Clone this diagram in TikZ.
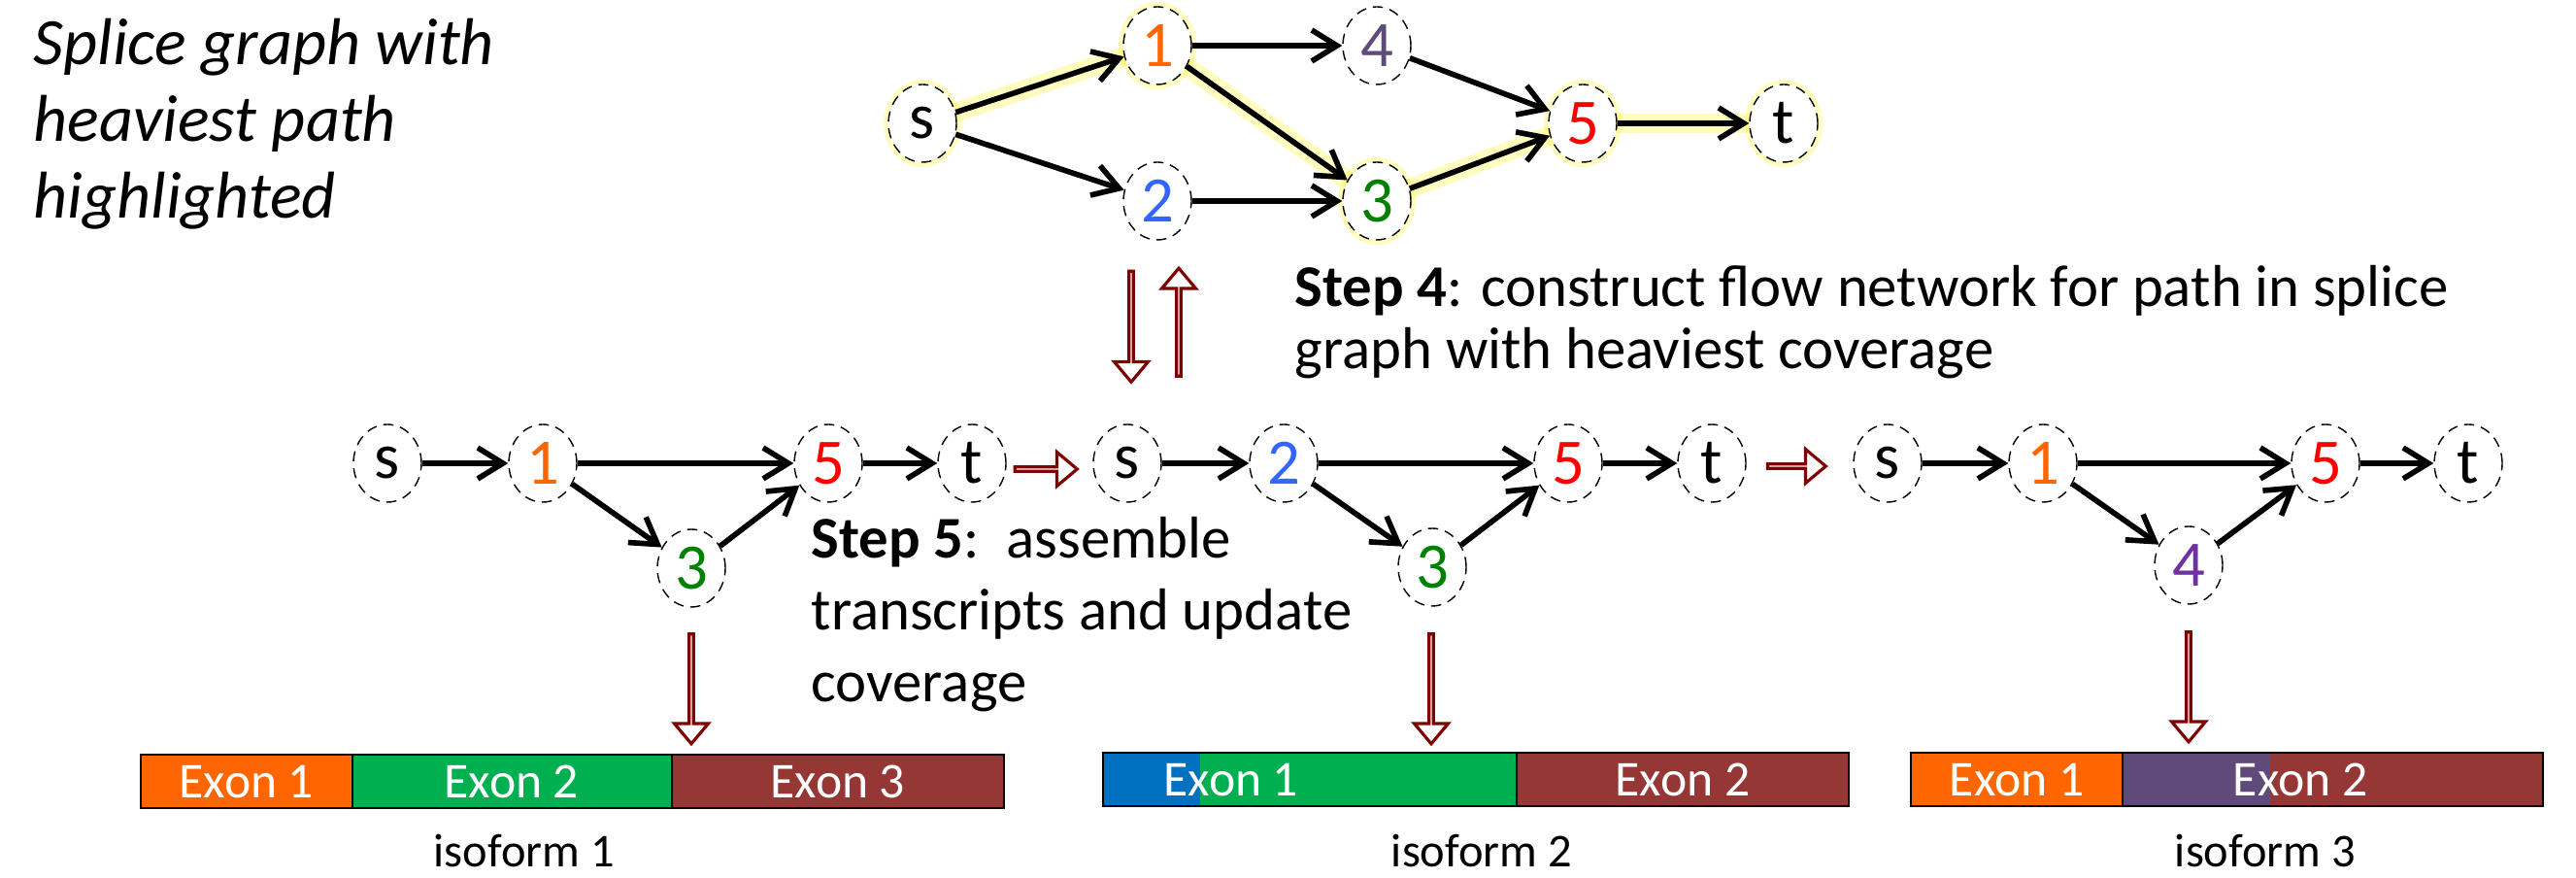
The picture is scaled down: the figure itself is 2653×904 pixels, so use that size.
\documentclass[tikz,border=0pt]{standalone}
\usepackage{fontspec}
\setmainfont{Carlito}
\usetikzlibrary{shapes.geometric,shapes.arrows,arrows.meta,backgrounds}

\definecolor{exorange}{HTML}{FF6600}
\definecolor{exgreen}{HTML}{00B050}
\definecolor{exbrown}{HTML}{953735}
\definecolor{exblue}{HTML}{0070C0}
\definecolor{expurple}{HTML}{604A7B}
\definecolor{arrowred}{HTML}{7F0000}
\definecolor{numorange}{HTML}{FF6600}
\definecolor{numblue}{HTML}{3366FF}
\definecolor{numgreen}{HTML}{008000}
\definecolor{numgrey}{HTML}{604A7B}
\definecolor{numpurple}{HTML}{7030A0}
\definecolor{numred}{HTML}{FF0000}

\begin{document}
\begin{tikzpicture}[x=0.1mm, y=-0.1mm,
  vert/.style={ellipse, draw, densely dashed, line width=0.4pt, fill=white, minimum width=7mm, minimum height=8mm, inner sep=0pt, font=\fontsize{19}{19}\selectfont},
  hot/.style={vert, preaction={draw=yellow, solid, line width=1mm, opacity=0.25}},
  link/.style={-{Straight Barb[length=2.6mm, width=3.2mm]}, line width=1.6pt},
  glowline/.style={draw=yellow, line width=2mm, opacity=0.25, line cap=round},
  bigarrow/.style={single arrow, draw=arrowred, line width=0.9pt, fill=white, minimum width=3.5mm, single arrow head extend=1.1mm, single arrow tip angle=80, inner sep=0pt},
  exon/.style={draw=black, line width=0.6pt},
  exlabel/.style={text=white, font=\fontsize{14.7}{15}\selectfont, anchor=base},
  isolabel/.style={font=\fontsize{13.8}{15}\selectfont, anchor=base}
]
\useasboundingbox (0,0) rectangle (2653,904);

% Title
\node[anchor=north west, align=left, inner sep=0pt, font=\fontsize{19.4}{22.5}\selectfont\itshape] (title) at (34,18) {Splice graph with\\heaviest path\\highlighted};

% Splice graph
\node[hot] (s0) at (950,127) {s};
\node[hot, text=numorange] (a1) at (1192,47) {1};
\node[vert, text=numblue] (a2) at (1192,207) {2};
\node[hot, text=numgreen] (a3) at (1418,207) {3};
\node[vert, text=numgrey] (a4) at (1418,47) {4};
\node[hot, text=numred] (a5) at (1630,127) {5};
\node[hot] (t0) at (1837,127) {t};

\begin{scope}[on background layer]
\draw[glowline] (s0) -- (a1) -- (a3) -- (a5) -- (t0);
\end{scope}

\draw[link] (s0) -- (a1);
\draw[link] (s0) -- (a2);
\draw[link] (a1) -- (a4);
\draw[link] (a1) -- (a3);
\draw[link] (a2) -- (a3);
\draw[link] (a4) -- (a5);
\draw[link] (a3) -- (a5);
\draw[link] (a5) -- (t0);

% Step 4
\node[bigarrow, minimum height=11.4mm, rotate=-90] (down0) at (1165,335) {};
\node[bigarrow, minimum height=11.1mm, rotate=90] (up0) at (1214,333) {};
\node[anchor=north west, align=left, inner sep=0pt, font=\fontsize{17.3}{18.2}\selectfont] (step4) at (1333,273) {\textbf{Step 4}: construct flow network for path in splice\\graph with heaviest coverage};

% Flow network 1
\node[vert] (s1) at (399,477) {s};
\node[vert, text=numorange] (b1) at (559,477) {1};
\node[vert, text=numgreen] (b3) at (712,585) {3};
\node[vert, text=numred] (b5) at (853,477) {5};
\node[vert] (t1) at (1001,477) {t};
\draw[link] (s1) -- (b1);
\draw[link] (b1) -- (b5);
\draw[link] (b1) -- (b3);
\draw[link] (b3) -- (b5);
\draw[link] (b5) -- (t1);

\node[bigarrow, minimum height=6.4mm] (next1) at (1076,483) {};

% Flow network 2
\node[vert] (s2) at (1161,477) {s};
\node[vert, text=numblue] (c2) at (1322,477) {2};
\node[vert, text=numgreen] (c3) at (1475,584) {3};
\node[vert, text=numred] (c5) at (1615,477) {5};
\node[vert] (t2) at (1763,477) {t};
\draw[link] (s2) -- (c2);
\draw[link] (c2) -- (c5);
\draw[link] (c2) -- (c3);
\draw[link] (c3) -- (c5);
\draw[link] (c5) -- (t2);

\node[bigarrow, minimum height=6mm] (next2) at (1849,480) {};

% Flow network 3
\node[vert] (s3) at (1944,477) {s};
\node[vert, text=numorange] (d1) at (2104,477) {1};
\node[vert, text=numpurple] (d4) at (2254,582) {4};
\node[vert, text=numred] (d5) at (2395,477) {5};
\node[vert] (t3) at (2542,477) {t};
\draw[link] (s3) -- (d1);
\draw[link] (d1) -- (d5);
\draw[link] (d1) -- (d4);
\draw[link] (d4) -- (d5);
\draw[link] (d5) -- (t3);

% Step 5
\node[anchor=north west, align=left, inner sep=0pt, font=\fontsize{17.3}{21}\selectfont] (step5) at (835,532) {\textbf{Step 5}:~~assemble\\transcripts and update\\coverage};

% Isoforms
\node[bigarrow, minimum height=11.3mm, rotate=-90] (iso1arrow) at (712,708) {};
\node[bigarrow, minimum height=11.3mm, rotate=-90] (iso2arrow) at (1474,708) {};
\node[bigarrow, minimum height=11.3mm, rotate=-90] (iso3arrow) at (2254,706) {};

\fill[exorange] (145,777) rectangle (363,832);
\fill[exgreen] (363,777) rectangle (692,832);
\fill[exbrown] (692,777) rectangle (1034,832);
\draw[exon] (145,777) rectangle (1034,832) (363,777) -- (363,832) (692,777) -- (692,832);

\fill[exblue] (1136,775) rectangle (1236,830);
\fill[exgreen] (1236,775) rectangle (1562,830);
\fill[exbrown] (1562,775) rectangle (1904,830);
\draw[exon] (1136,775) rectangle (1904,830) (1562,775) -- (1562,830);

\fill[exorange] (1968,775) rectangle (2186,830);
\fill[expurple] (2186,775) rectangle (2338,830);
\fill[exbrown] (2338,775) rectangle (2619,830);
\draw[exon] (1968,775) rectangle (2619,830) (2186,775) -- (2186,830);

\node[exlabel] (e11) at (254,822) {Exon 1};
\node[exlabel] (e12) at (527,822) {Exon 2};
\node[exlabel] (e13) at (863,822) {Exon 3};
\node[exlabel] (e21) at (1268,820) {Exon 1};
\node[exlabel] (e22) at (1733,820) {Exon 2};
\node[exlabel] (e31) at (2077,820) {Exon 1};
\node[exlabel] (e32) at (2369,820) {Exon 2};

\node[isolabel] (iso1) at (540,893) {isoform 1};
\node[isolabel] (iso2) at (1526,893) {isoform 2};
\node[isolabel] (iso3) at (2333,893) {isoform 3};

\end{tikzpicture}
\end{document}
